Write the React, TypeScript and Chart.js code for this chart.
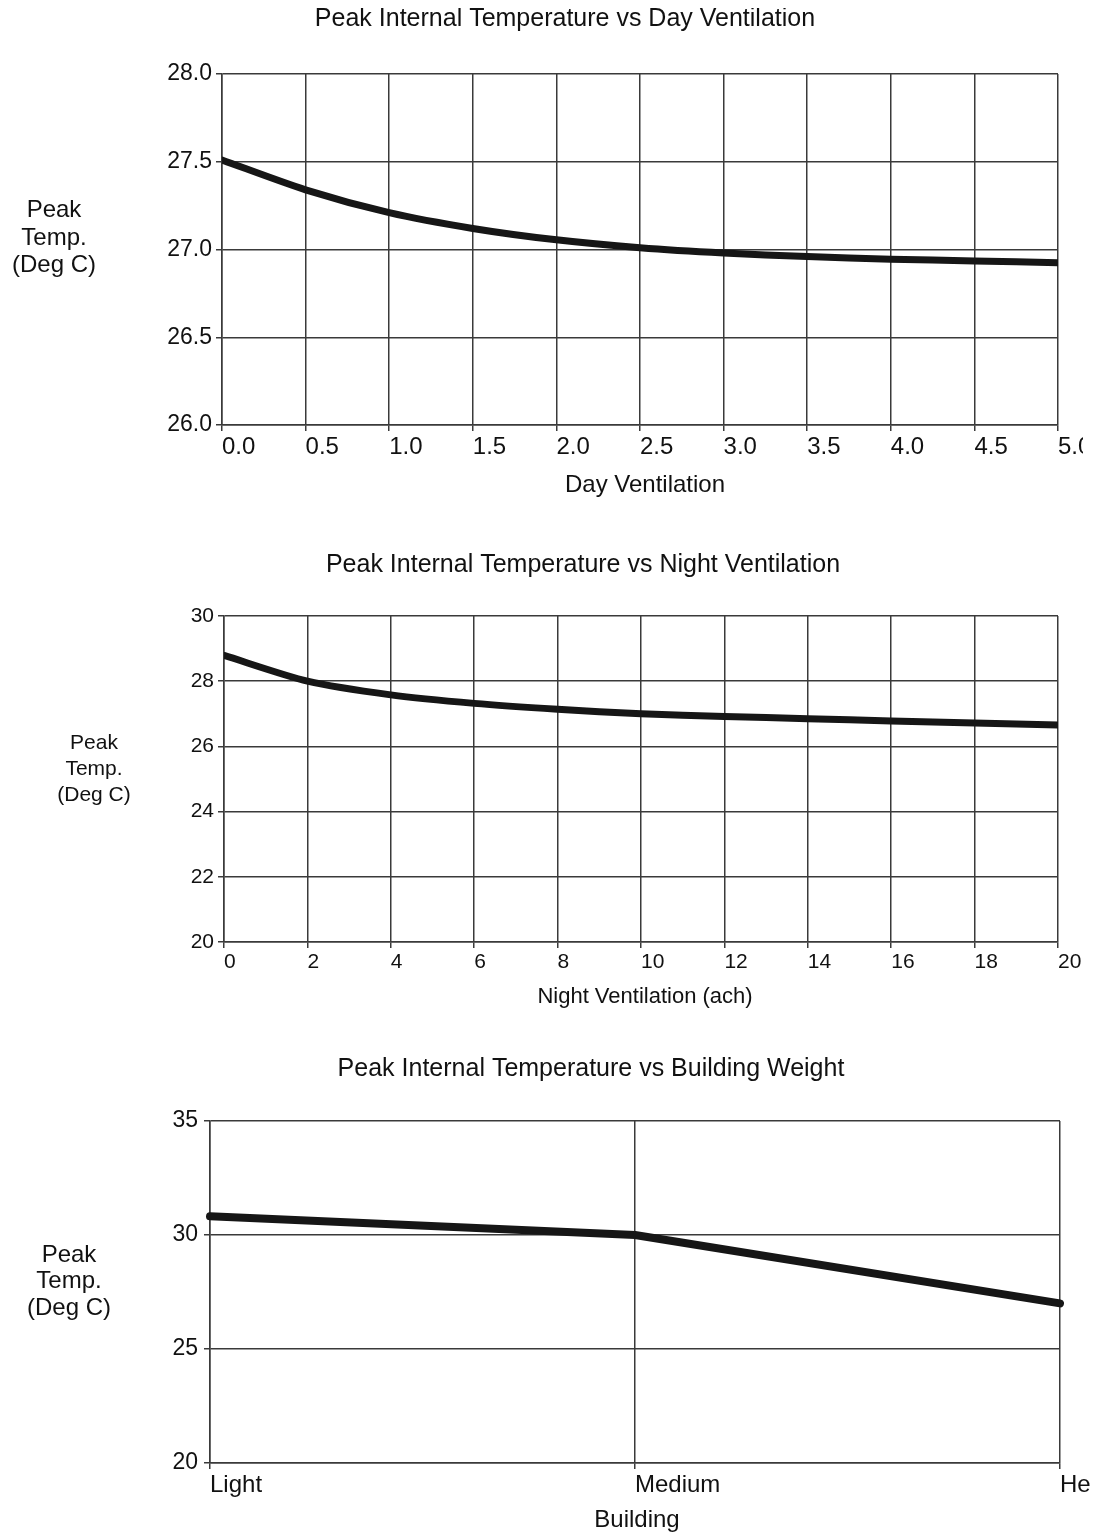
import React, { useEffect, useRef } from "react";
import { Chart, registerables } from "chart.js";

Chart.register(...registerables);

const FONT = '"Liberation Sans", Arial, Helvetica, sans-serif';
const INK = "#111111";
const GRID = "#3a3a3a";
const LINE = "#161616";

// ---- Chart 1: Day ventilation ----
const dayVentilation = [0, 0.5, 1.0, 1.5, 2.0, 2.5, 3.0, 3.5, 4.0, 4.5, 5.0];
const dayPeakTemp = [27.51, 27.34, 27.21, 27.12, 27.055, 27.01, 26.98, 26.96, 26.945, 26.935, 26.925];
const dayYTicks = [26.0, 26.5, 27.0, 27.5, 28.0];

// ---- Chart 2: Night ventilation ----
const nightVentilation = [0, 2, 4, 6, 8, 10, 12, 14, 16, 18, 20];
const nightPeakTemp = [28.79, 28.0, 27.58, 27.32, 27.14, 27.0, 26.92, 26.85, 26.78, 26.72, 26.66];
const nightYTicks = [20, 22, 24, 26, 28, 30];

// ---- Chart 3: Building weight ----
const buildingWeight = ["Light", "Medium", "Heavy"];
const weightPeakTemp = [30.82, 30.0, 27.0];
const weightYTicks = [20, 25, 30, 35];

const yTitleLines = ["Peak", "Temp.", "(Deg C)"];

type TextSpec = {
  title: string;
  titleX: number;
  titleY: number;
  titleSize: number;
  yLines: string[];
  yX: number;
  yYs: number[];
  ySize: number;
  xTitle: string;
  xTitleX: number;
  xTitleY: number;
  xSize: number;
};

function textPlugin(t: TextSpec) {
  return {
    id: "panelText",
    afterDraw(chart: any) {
      const ctx = chart.ctx as CanvasRenderingContext2D;
      ctx.save();
      ctx.fillStyle = INK;
      ctx.textAlign = "center";
      ctx.textBaseline = "middle";
      ctx.font = `${t.titleSize}px ${FONT}`;
      ctx.fillText(t.title, t.titleX, t.titleY);
      ctx.font = `${t.ySize}px ${FONT}`;
      t.yLines.forEach((l, i) => ctx.fillText(l, t.yX, t.yYs[i]));
      ctx.font = `${t.xSize}px ${FONT}`;
      ctx.fillText(t.xTitle, t.xTitleX, t.xTitleY);
      ctx.restore();
    },
  };
}

type PanelSpec = {
  width: number;
  height: number;
  padding: { left: number; right: number; top: number; bottom: number };
  yWidth: number;
  xHeight: number;
  xType: "linear" | "category";
  xValues: (number | string)[];
  xMin?: number;
  xMax?: number;
  xFormat?: (v: number) => string;
  yValues: number[];
  yTicks: number[];
  yFormat: (v: number) => string;
  yTickSize: number;
  yTickPad: number;
  xTickSize: number;
  lineWidth: number;
  tension: number;
  text: TextSpec;
};

function buildConfig(p: PanelSpec): any {
  const isLinear = p.xType === "linear";
  const data = isLinear
    ? (p.xValues as number[]).map((x, i) => ({ x, y: p.yValues[i] }))
    : p.yValues;
  const xScale: any = {
    type: p.xType,
    offset: false,
    ticks: {
      align: "start",
      padding: 2,
      color: INK,
      font: { family: FONT, size: p.xTickSize },
      maxRotation: 0,
      minRotation: 0,
      autoSkip: false,
    },
    grid: { color: GRID, lineWidth: 1.5, tickLength: 6, drawTicks: true },
    border: { color: GRID, width: 1.5 },
    afterFit: (s: any) => {
      s.height = p.xHeight;
      s.paddingLeft = 0;
      s.paddingRight = 0;
    },
  };
  if (isLinear) {
    xScale.min = p.xMin;
    xScale.max = p.xMax;
    xScale.afterBuildTicks = (s: any) => {
      s.ticks = (p.xValues as number[]).map((v) => ({ value: v }));
    };
    xScale.ticks.callback = (v: any) => (p.xFormat ? p.xFormat(Number(v)) : String(v));
  }
  return {
    type: "line",
    data: {
      labels: isLinear ? undefined : p.xValues,
      datasets: [
        {
          data,
          borderColor: LINE,
          borderWidth: p.lineWidth,
          pointRadius: 0,
          tension: p.tension,
          fill: false,
          borderCapStyle: "round",
          borderJoinStyle: "round",
        },
      ],
    },
    options: {
      responsive: false,
      animation: false,
      events: [],
      layout: { padding: p.padding },
      plugins: { legend: { display: false }, tooltip: { enabled: false }, title: { display: false } },
      scales: {
        x: xScale,
        y: {
          type: "linear",
          min: p.yTicks[0],
          max: p.yTicks[p.yTicks.length - 1],
          afterBuildTicks: (s: any) => {
            s.ticks = p.yTicks.map((v) => ({ value: v }));
          },
          ticks: {
            color: INK,
            padding: p.yTickPad,
            font: { family: FONT, size: p.yTickSize },
            callback: (v: any) => p.yFormat(Number(v)),
          },
          grid: { color: GRID, lineWidth: 1.5, tickLength: 6, drawTicks: true },
          border: { color: GRID, width: 1.5 },
          afterFit: (s: any) => {
            s.width = p.yWidth;
            s.paddingTop = 0;
            s.paddingBottom = 0;
          },
        },
      },
    },
    plugins: [textPlugin(p.text)],
  };
}

function Panel({ spec }: { spec: PanelSpec }) {
  const ref = useRef<HTMLCanvasElement | null>(null);
  useEffect(() => {
    if (!ref.current) return;
    const chart = new Chart(ref.current, buildConfig(spec));
    return () => chart.destroy();
  }, [spec]);
  return (
    <canvas
      ref={ref}
      width={spec.width}
      height={spec.height}
      style={{ display: "block", width: spec.width, height: spec.height }}
    />
  );
}

const dayPanel: PanelSpec = {
  width: 1075,
  height: 510,
  padding: { left: 134, right: 25, top: 66, bottom: 33 },
  yWidth: 80,
  xHeight: 60,
  xType: "linear",
  xValues: dayVentilation,
  xMin: 0,
  xMax: 5,
  xFormat: (v) => v.toFixed(1),
  yValues: dayPeakTemp,
  yTicks: dayYTicks,
  yFormat: (v) => v.toFixed(1),
  yTickSize: 23,
  yTickPad: 4,
  xTickSize: 24,
  lineWidth: 7,
  tension: 0.25,
  text: {
    title: "Peak Internal Temperature vs Day Ventilation",
    titleX: 557,
    titleY: 11,
    titleSize: 25,
    yLines: yTitleLines,
    yX: 46,
    yYs: [202, 230, 257],
    ySize: 24,
    xTitle: "Day Ventilation",
    xTitleX: 637,
    xTitleY: 477,
    xSize: 24,
  },
};

const nightPanel: PanelSpec = {
  width: 1083,
  height: 510,
  padding: { left: 136, right: 33, top: 98, bottom: 36 },
  yWidth: 80,
  xHeight: 50,
  xType: "linear",
  xValues: nightVentilation,
  xMin: 0,
  xMax: 20,
  xFormat: (v) => String(v),
  yValues: nightPeakTemp,
  yTicks: nightYTicks,
  yFormat: (v) => String(v),
  yTickSize: 21,
  yTickPad: 4,
  xTickSize: 21,
  lineWidth: 7,
  tension: 0.25,
  text: {
    title: "Peak Internal Temperature vs Night Ventilation",
    titleX: 575,
    titleY: 47,
    titleSize: 25,
    yLines: yTitleLines,
    yX: 86,
    yYs: [225, 251, 277],
    ySize: 21,
    xTitle: "Night Ventilation (ach)",
    xTitleX: 637,
    xTitleY: 479,
    xSize: 22,
  },
};

const weightPanel: PanelSpec = {
  width: 1083,
  height: 506,
  padding: { left: 122, right: 31, top: 93, bottom: 21 },
  yWidth: 80,
  xHeight: 50,
  xType: "category",
  xValues: buildingWeight,
  yValues: weightPeakTemp,
  yTicks: weightYTicks,
  yFormat: (v) => String(v),
  yTickSize: 23,
  yTickPad: 6,
  xTickSize: 24,
  lineWidth: 8,
  tension: 0,
  text: {
    title: "Peak Internal Temperature vs Building Weight",
    titleX: 583,
    titleY: 41,
    titleSize: 25,
    yLines: yTitleLines,
    yX: 61,
    yYs: [227, 253, 280],
    ySize: 24,
    xTitle: "Building",
    xTitleX: 629,
    xTitleY: 492,
    xSize: 24,
  },
};

export default function App() {
  useEffect(() => {
    document.documentElement.style.overflow = "hidden";
    document.body.style.overflow = "hidden";
  }, []);
  return (
    <div style={{ width: 1083, background: "#ffffff" }}>
      <Panel spec={dayPanel} />
      <Panel spec={nightPanel} />
      <Panel spec={weightPanel} />
    </div>
  );
}
